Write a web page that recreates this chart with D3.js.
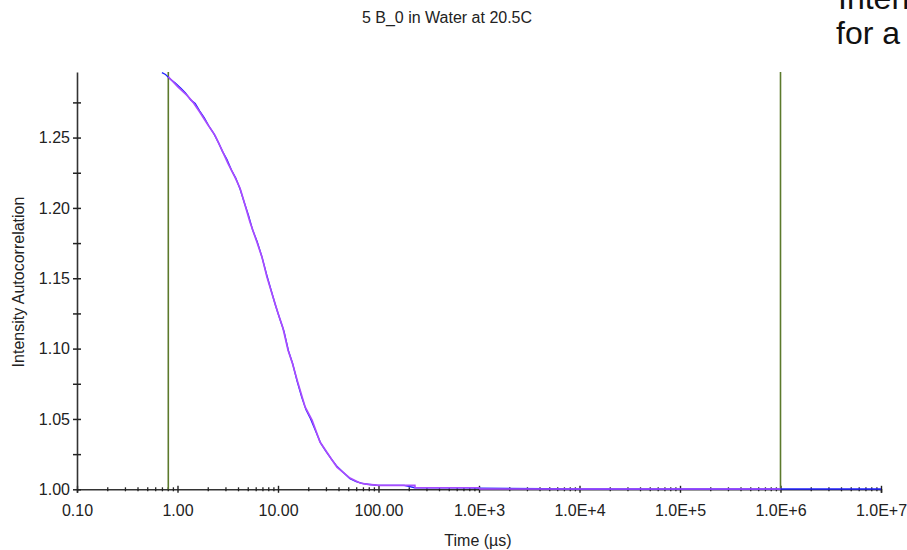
<!DOCTYPE html>
<html>
<head>
<meta charset="utf-8">
<script src="https://cdn.jsdelivr.net/npm/d3@7/dist/d3.min.js"></script>
<style>
  html, body { margin: 0; padding: 0; background: #fff; }
  svg { display: block; }
  text { font-family: "Liberation Sans", Arial, sans-serif; fill: #222; }
</style>
</head>
<body>
<svg id="chart" width="907" height="550"></svg>
<script>
// Correlogram: measured data (blue) and cumulant fit (purple)
const chartTitle = "5 B_0 in Water at 20.5C";
const xTitle = "Time (µs)";
const yTitle = "Intensity Autocorrelation";

const xDecades = [0.1, 1, 10, 100, 1e3, 1e4, 1e5, 1e6, 1e7];
const xTickLabels = ["0.10", "1.00", "10.00", "100.00", "1.0E+3", "1.0E+4", "1.0E+5", "1.0E+6", "1.0E+7"];
const yMajor = [1.00, 1.05, 1.10, 1.15, 1.20, 1.25];
const yTickLabels = ["1.00", "1.05", "1.10", "1.15", "1.20", "1.25"];
const yMinor = [1.025, 1.075, 1.125, 1.175, 1.225, 1.275];

// Fit range cursors (µs)
const cursorTimes = [0.81, 1e6];

// Measured correlation data: delay time (µs) and g2
const measuredTime = [0.70, 0.76, 0.85, 0.95, 1.08, 1.20, 1.35, 1.50, 1.66, 1.85, 2.05, 2.30, 2.55, 2.80, 3.10, 3.45, 3.80, 4.20, 4.60, 5.10, 5.60, 6.20, 6.90, 7.70, 8.50, 9.40, 10.4, 11.5, 12.7, 14.0, 15.5, 17.2, 19.0, 21.0, 23.5, 26.5, 30.0, 34.0, 39.0, 45.0, 52.0, 60.0, 70.0, 82.0, 97.0, 115, 140, 180, 230, 300, 400, 550, 750, 1000, 1e4, 1e5, 1e6, 1e7];
const measuredG2 = [1.2962, 1.2948, 1.2915, 1.2888, 1.2850, 1.2818, 1.2768, 1.2742, 1.2690, 1.2640, 1.2582, 1.2528, 1.2466, 1.2402, 1.2345, 1.2268, 1.2212, 1.2133, 1.2042, 1.1945, 1.1842, 1.1762, 1.1655, 1.1528, 1.1420, 1.1312, 1.1214, 1.1120, 1.0985, 1.0892, 1.0768, 1.0655, 1.0565, 1.0503, 1.0420, 1.0330, 1.0270, 1.0214, 1.0160, 1.0118, 1.0076, 1.0055, 1.0040, 1.0034, 1.0028, 1.0028, 1.0028, 1.0028, 1.0011, 1.0011, 1.0011, 1.0010, 1.0010, 1.0008, 1.0002, 1.0002, 1.0002, 1.0002];

// Fitted curve over the cursor range
const fitTime = [0.81, 1.01, 1.245, 1.43, 1.67, 1.97, 2.36, 2.77, 3.18, 3.73, 4.19, 4.49, 5.27, 6.18, 6.93, 7.77, 8.92, 10.0, 11.2, 12.6, 13.8, 15.5, 18.6, 21.8, 26.2, 34.5, 38.6, 52.0, 65.5, 78.7, 96.6, 100, 230, 231, 1000, 1020, 1e6];
const fitG2 = [1.2932, 1.2860, 1.2800, 1.2750, 1.2680, 1.2600, 1.2516, 1.2410, 1.2317, 1.2218, 1.2140, 1.2069, 1.1898, 1.1756, 1.1650, 1.1508, 1.1366, 1.1252, 1.1146, 1.0989, 1.0904, 1.0776, 1.0585, 1.0492, 1.0336, 1.0208, 1.0158, 1.0080, 1.0045, 1.0035, 1.0029, 1.0028, 1.0028, 1.0011, 1.0011, 1.0002, 1.0002];

const svg = d3.select("#chart");

const x = d3.scaleLog().domain([0.1, 1e7]).range([77, 881]);
const y = d3.scaleLinear().domain([1.0, 1.2966]).range([489.3, 72]);

// Title
svg.append("text")
  .attr("x", 447).attr("y", 23)
  .attr("text-anchor", "middle")
  .style("font-size", "16px")
  .text(chartTitle);

// Slide text partly covered by the chart
const slide = svg.append("g").style("font-family", "'Open Sans', 'Noto Sans', sans-serif");
slide.append("text").attr("x", 838).attr("y", 9).style("font-size", "32px").style("fill", "#111").text("Intensity");
slide.append("text").attr("x", 836).attr("y", 44).style("font-size", "32px").style("fill", "#111").text("for a");

// X axis: major decade ticks with labels
const xAxisG = svg.append("g").attr("transform", "translate(0,489.3)");
const xMajorAxis = d3.axisBottom(x)
  .tickValues(xDecades)
  .tickFormat((d, i) => xTickLabels[i])
  .tickSizeOuter(0)
  .tickSize(3.5)
  .tickPadding(12);
xAxisG.call(xMajorAxis);
xAxisG.select(".domain").attr("stroke", "#333").attr("stroke-width", 1.6);
xAxisG.selectAll(".tick line").attr("y1", -3.5).attr("stroke", "#222").attr("stroke-width", 1.4);
xAxisG.selectAll(".tick text")
  .style("font-family", "'Liberation Sans', Arial, sans-serif")
  .style("font-size", "16px").attr("fill", "#222");

// X axis: minor ticks at 2..9 within each decade
const xMinor = [];
xDecades.slice(0, -1).forEach(d => { for (let k = 2; k <= 9; k++) xMinor.push(d * k); });
const xMinorG = svg.append("g").attr("transform", "translate(0,489.3)");
xMinorG.call(d3.axisBottom(x).tickValues(xMinor).tickFormat("").tickSize(2).tickSizeOuter(0));
xMinorG.select(".domain").remove();
xMinorG.selectAll(".tick line").attr("y1", -2).attr("stroke", "#222").attr("stroke-width", 1.3);

// Y axis
const yAxisG = svg.append("g").attr("transform", "translate(77,0)");
yAxisG.call(d3.axisLeft(y)
  .tickValues(yMajor)
  .tickFormat((d, i) => yTickLabels[i])
  .tickSize(4)
  .tickSizeOuter(0)
  .tickPadding(3));
yAxisG.select(".domain").attr("stroke", "#333").attr("stroke-width", 1.6);
yAxisG.selectAll(".tick line").attr("x2", -4).attr("x1", 4).attr("stroke", "#222").attr("stroke-width", 1.5);
yAxisG.selectAll(".tick text")
  .style("font-family", "'Liberation Sans', Arial, sans-serif")
  .style("font-size", "16px").attr("fill", "#222");

const yMinorG = svg.append("g").attr("transform", "translate(77,0)");
yMinorG.call(d3.axisLeft(y).tickValues(yMinor).tickFormat("").tickSize(4).tickSizeOuter(0));
yMinorG.select(".domain").remove();
yMinorG.selectAll(".tick line").attr("x2", -4).attr("x1", 4).attr("stroke", "#222").attr("stroke-width", 1.5);

// Axis titles
svg.append("text")
  .attr("x", 478).attr("y", 546)
  .attr("text-anchor", "middle")
  .style("font-size", "16px")
  .text(xTitle);
svg.append("text")
  .attr("transform", "translate(24,282) rotate(-90)")
  .attr("text-anchor", "middle")
  .style("font-size", "16px")
  .text(yTitle);

// Fit range cursors
svg.selectAll("line.cursor")
  .data(cursorTimes)
  .join("line")
  .attr("class", "cursor")
  .attr("x1", d => x(d)).attr("x2", d => x(d))
  .attr("y1", y.range()[1]).attr("y2", y.range()[0])
  .attr("stroke", "#5c7a2c")
  .attr("stroke-width", 1.6);

const line = d3.line().x(d => x(d[0])).y(d => y(d[1]));

// Measured data
svg.append("path")
  .datum(measuredTime.map((t, i) => [t, measuredG2[i]]))
  .attr("d", line)
  .attr("fill", "none")
  .attr("stroke", "#2020ff")
  .attr("stroke-width", 1.3);

// Fit
svg.append("path")
  .datum(fitTime.map((t, i) => [t, fitG2[i]]))
  .attr("d", line)
  .attr("fill", "none")
  .attr("stroke", "#a84cff")
  .attr("stroke-width", 1.7);
</script>
</body>
</html>
